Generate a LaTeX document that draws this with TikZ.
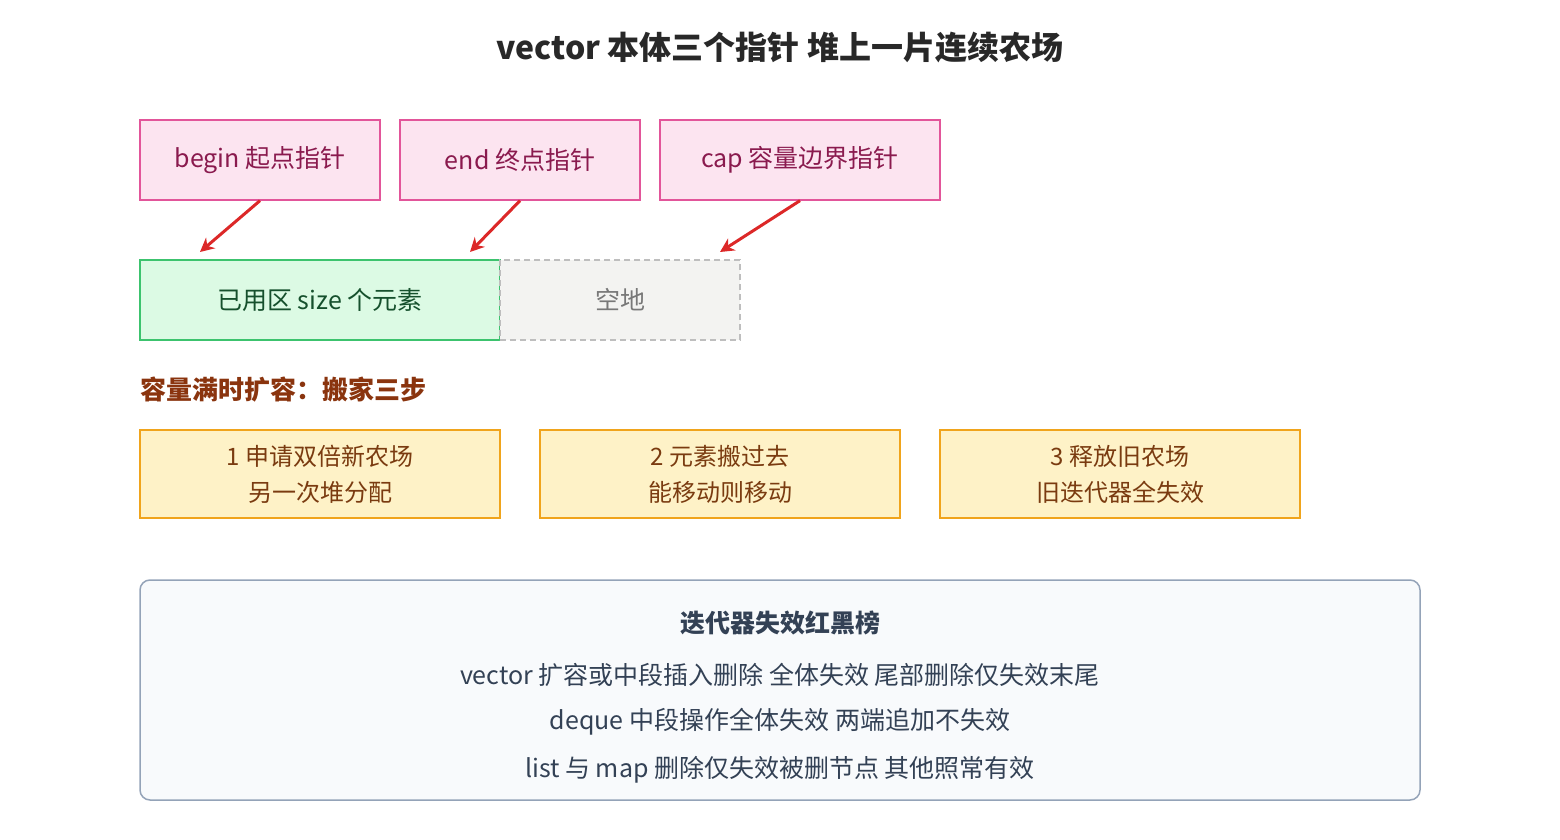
\documentclass[tikz,border=0pt]{standalone}
\usepackage{fontspec}
\usetikzlibrary{arrows.meta}
\setmainfont{Noto Sans CJK SC}
\begin{document}
\begin{tikzpicture}[x=1pt,y=-1pt,
  ptr/.style={draw=pinkB,fill=pinkF,line width=1.3pt,minimum height=80pt,text=pinkT,font=\fontsize{25}{30}\selectfont,inner sep=0pt},
  stepbox/.style={draw=yelB,fill=yelF,line width=1.3pt,minimum width=360pt,minimum height=88pt,text=yelT,font=\fontsize{24}{36}\selectfont,align=center,inner sep=0pt},
  arr/.style={draw=arrR,line width=3pt,-{Stealth[length=14pt,width=14pt]}}]
\definecolor{pinkB}{HTML}{E2559A}\definecolor{pinkF}{HTML}{FCE4F0}\definecolor{pinkT}{HTML}{8A1A4E}
\definecolor{yelB}{HTML}{F0A41C}\definecolor{yelF}{HTML}{FEF2C7}\definecolor{yelT}{HTML}{7A3B10}
\definecolor{arrR}{HTML}{DC2828}
\useasboundingbox (0,0) rectangle (1560,840);
\node[font=\bfseries\fontsize{32}{38}\selectfont,text={rgb,255:red,40;green,40;blue,40}] (title) at (780,48) {vector 本体三个指针 堆上一片连续农场};
\node[ptr,minimum width=240pt] (b) at (260,160) {begin 起点指针};
\node[ptr,minimum width=240pt] (e) at (520,160) {end 终点指针};
\node[ptr,minimum width=280pt] (c) at (800,160) {cap 容量边界指针};
\node[draw={rgb,255:red,60;green,195;blue,110},fill={rgb,255:red,220;green,250;blue,228},line width=1.3pt,minimum width=360pt,minimum height=80pt,text={rgb,255:red,22;green,80;blue,45},font=\fontsize{25}{30}\selectfont,inner sep=0pt] (u) at (320,300) {已用区 size 个元素};
\node[draw={rgb,255:red,190;green,190;blue,190},dashed,dash pattern=on 6pt off 4pt,fill={rgb,255:red,243;green,243;blue,241},line width=1.3pt,minimum width=240pt,minimum height=80pt,text={rgb,255:red,120;green,120;blue,120},font=\fontsize{25}{30}\selectfont,inner sep=0pt] (f) at (620,300) {空地};
\coordinate (ub) at (200,252);\coordinate (ue) at (470,252);\coordinate (uc) at (720,252);
\draw[arr] (b.south) -- (ub);
\draw[arr] (e.south) -- (ue);
\draw[arr] (c.south) -- (uc);
\node[anchor=west,font=\bfseries\fontsize{26}{30}\selectfont,text={rgb,255:red,138;green,52;blue,14},inner sep=0pt] (h) at (140,390) {容量满时扩容：搬家三步};
\node[stepbox] (s1) at (320,474) {1 申请双倍新农场\\另一次堆分配};
\node[stepbox] (s2) at (720,474) {2 元素搬过去\\能移动则移动};
\node[stepbox] (s3) at (1120,474) {3 释放旧农场\\旧迭代器全失效};
\node[draw={rgb,255:red,148;green,163;blue,184},fill={rgb,255:red,248;green,250;blue,252},line width=1.5pt,rounded corners=10pt,minimum width=1280pt,minimum height=220pt] (box) at (780,690) {};
\begin{scope}[every node/.style={text={rgb,255:red,51;green,65;blue,85},font=\fontsize{25}{30}\selectfont}]
\node[font=\bfseries\fontsize{25}{30}\selectfont] (t0) at (780,623) {迭代器失效红黑榜};
\node (t1) at (780,675) {vector 扩容或中段插入删除 全体失效 尾部删除仅失效末尾};
\node (t2) at (780,722) {deque 中段操作全体失效 两端追加不失效};
\node (t3) at (780,770) {list 与 map 删除仅失效被删节点 其他照常有效};
\end{scope}
\end{tikzpicture}
\end{document}
